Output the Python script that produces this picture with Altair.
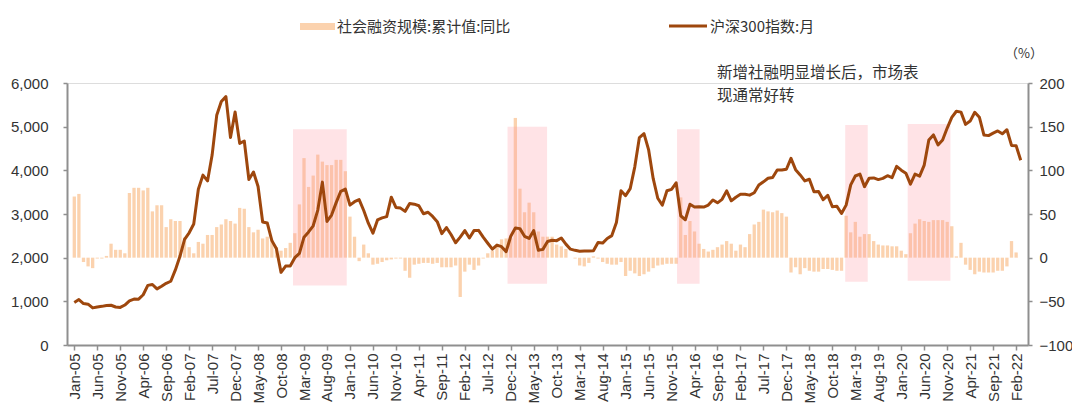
import json
import altair as alt
import pandas as pd

# ---------------- data ----------------
MONTHS = pd.date_range("2005-01-01", "2022-03-01", freq="MS").strftime("%b-%y").tolist()

TICK_LABELS = ["Jan-05", "Jun-05", "Nov-05", "Apr-06", "Sep-06", "Feb-07", "Jul-07", "Dec-07",
               "May-08", "Oct-08", "Mar-09", "Aug-09", "Jan-10", "Jun-10", "Nov-10", "Apr-11",
               "Sep-11", "Feb-12", "Jul-12", "Dec-12", "May-13", "Oct-13", "Mar-14", "Aug-14",
               "Jan-15", "Jun-15", "Nov-15", "Apr-16", "Sep-16", "Feb-17", "Jul-17", "Dec-17",
               "May-18", "Oct-18", "Mar-19", "Aug-19", "Jan-20", "Jun-20", "Nov-20", "Apr-21",
               "Sep-21", "Feb-22"]

# 社会融资规模:累计值:同比 (%), monthly
SF_YOY = [
    70, 73, -5, -10, -12, -1, -1, 2, 16, 9, 9, 5,
    74, 80, 80, 77, 80, 53, 60, 60, 35, 44, 42, 42,
    23, 12, 5, 18, 16, 26, 26, 35, 38, 44, 42, 39,
    57, 56, 35, 29, 32, 22, 24, 20, 12, 8, 11, 17,
    28, 61, 114, 81, 94, 118, 110, 106, 106, 112, 112, 99,
    47, 24, -4, 15, 5, -8, -7, -5, -3, -2, -1, -1,
    -15, -23, -8, -7, -6, -6, -7, -6, -11, -11, -11, -9,
    -45, -16, -8, -14, -9, -1, 5, 8, 15, 21, 22, 22,
    160, 79, 52, 63, 52, 30, 24, 24, 24, 15, 13, 10,
    0, -1, -9, -10, -6, 1.5, -1, -5, -7, -8, -8, -5,
    -21, -15, -18, -21, -19, -16, -12, -9, -8, -7, -7, -7,
    69, 26, 42, 30, 16, 10, 7, 9, 12, 15, 19, 16,
    8, 15, 12, 27, 38, 41, 55, 53, 52, 54, 51, 47,
    -17, -11, -19, -12, -15, -16, -16, -13, -13, -14, -15, -15,
    48, 29, 41, 24, 27, 27, 19, 15, 14, 14, 13, 13,
    8, 4, 28, 39, 44, 42, 41, 43, 43, 43, 41, 36,
    1.5, 17, -8, -14, -19, -16, -17, -17, -17, -15, -15, -10,
    19, 6, None,
]

# 沪深300指数:月
CSI300 = [
    975, 1040, 950, 935, 850, 870, 885, 905, 910, 870, 860, 915,
    1012, 1052, 1050, 1150, 1365, 1385, 1285, 1345, 1412, 1460, 1720, 2030,
    2420, 2570, 2770, 3568, 3891, 3757, 4350, 5260, 5576, 5688, 4750, 5338,
    4617, 4671, 3791, 3962, 3631, 2817, 2794, 2390, 2202, 1664, 1807, 1810,
    2000, 2100, 2470, 2590, 2730, 3090, 3730, 2830, 2977, 3260, 3520, 3570,
    3204, 3281, 3330, 3080, 2790, 2560, 2865, 2910, 2940, 3385, 3150, 3135,
    3060, 3240, 3225, 3190, 3005, 3040, 2945, 2825, 2550, 2690, 2530, 2343,
    2470, 2620, 2450, 2620, 2625, 2470, 2330, 2195, 2288, 2252, 2138, 2490,
    2680, 2665, 2488, 2440, 2620, 2172, 2190, 2370, 2400, 2390, 2450, 2310,
    2195, 2168, 2146, 2150, 2150, 2160, 2348, 2334, 2440, 2505, 2805, 3533,
    3420, 3580, 4080, 4750, 4840, 4476, 3815, 3360, 3203, 3532, 3565, 3715,
    2960, 2868, 3222, 3160, 3165, 3160, 3204, 3322, 3256, 3336, 3530, 3302,
    3384, 3450, 3452, 3432, 3486, 3663, 3737, 3818, 3837, 4006, 4006, 4025,
    4274, 4015, 3895, 3758, 3796, 3509, 3513, 3326, 3427, 3167, 3175, 3012,
    3203, 3666, 3870, 3913, 3626, 3820, 3826, 3788, 3815, 3877, 3832, 4090,
    4004, 3935, 3685, 3912, 3867, 4120, 4693, 4810, 4582, 4693, 4968, 5211,
    5353, 5333, 5052, 5128, 5331, 5217, 4808, 4795, 4852, 4902, 4836, 4930,
    4570, 4565, 4230,
]

# highlighted periods (month index, right-axis units)
HL_START = [47.6, 94.3, 131.2, 167.8, 181.4]
HL_END = [59.3, 102.9, 136.1, 172.7, 190.7]
HL_BOTTOM = [-32, -30, -30, -27.5, -26.5]
HL_TOP = [147, 150, 147, 152, 153]

SERIES_BAR = "社会融资规模:累计值:同比"
SERIES_LINE = "沪深300指数:月"
NOTE = ["新增社融明显增长后，市场表", "现通常好转"]
UNIT = "（%）"

# ---------------- build ----------------
df = pd.DataFrame({"idx": list(range(len(MONTHS))), "month": MONTHS,
                   "sf": SF_YOY, "csi": CSI300})
hl = pd.DataFrame({"s": HL_START, "e": HL_END, "b": HL_BOTTOM, "t": HL_TOP})

NUM_FONT = "Liberation Sans"
CJK_FONT = "Noto Sans CJK SC"
TEXT_COLOR = "#333333"
AXIS_COLOR = "#8f8f8f"
BAR_COLOR = "#FBD2AE"
LINE_COLOR = "#9E470D"

label_expr = json.dumps(TICK_LABELS) + "[round(datum.value / 5)]"
x_axis = alt.Axis(values=list(range(0, 206, 5)), labelExpr=label_expr, labelAngle=270,
                  labelOverlap=False, labelFont=NUM_FONT, labelFontSize=15,
                  labelColor=TEXT_COLOR, domainColor=AXIS_COLOR, domainWidth=2,
                  tickColor=AXIS_COLOR, tickWidth=1.5, tickSize=5, labelPadding=3,
                  grid=False, title=None)
x_scale = alt.Scale(domain=[-0.5, len(MONTHS) - 0.5], nice=False, zero=False)

bars = alt.Chart(df).mark_bar(size=3.3, color=BAR_COLOR).encode(
    x=alt.X("idx:Q", scale=x_scale, axis=x_axis),
    y=alt.Y("sf:Q", scale=alt.Scale(domain=[-100, 200], nice=False),
            axis=alt.Axis(orient="right", values=[-100, -50, 0, 50, 100, 150, 200],
                          labelFont=NUM_FONT, labelFontSize=15, labelColor=TEXT_COLOR,
                          domainColor=AXIS_COLOR, domainWidth=2, tickColor=AXIS_COLOR,
                          tickWidth=1.5, tickSize=4, labelPadding=7, grid=False, title=None)),
)

rects = alt.Chart(hl).mark_rect(color="#FF9AA6", opacity=0.28).encode(
    x=alt.X("s:Q", scale=x_scale, axis=x_axis),
    x2="e:Q",
    y=alt.Y("b:Q", scale=alt.Scale(domain=[-100, 200], nice=False), axis=None),
    y2="t:Q",
)

line = alt.Chart(df).mark_line(color=LINE_COLOR, strokeWidth=3, strokeJoin="round").encode(
    x=alt.X("idx:Q", scale=x_scale, axis=x_axis),
    y=alt.Y("csi:Q", scale=alt.Scale(domain=[0, 6000], nice=False),
            axis=alt.Axis(orient="left", values=[0, 1000, 2000, 3000, 4000, 5000, 6000],
                          format=",d", labelFont=NUM_FONT, labelFontSize=15,
                          labelColor=TEXT_COLOR, domainColor=AXIS_COLOR, domainWidth=2,
                          tickColor=AXIS_COLOR, tickWidth=1.5, tickSize=4, labelPadding=15,
                          grid=False, title=None)),
)

one = pd.DataFrame({"k": [0]})
leg_bar_sw = alt.Chart(one).mark_rect(color=BAR_COLOR).encode(
    x=alt.value(233), x2=alt.value(268), y=alt.value(-60), y2=alt.value(-53))
leg_bar_tx = alt.Chart(one).mark_text(align="left", baseline="middle", font=CJK_FONT,
                                      fontSize=15, color=TEXT_COLOR).encode(
    x=alt.value(270), y=alt.value(-56.5), text=alt.value(SERIES_BAR))
leg_line_sw = alt.Chart(one).mark_rule(color=LINE_COLOR, strokeWidth=3).encode(
    x=alt.value(602), x2=alt.value(640), y=alt.value(-57))
leg_line_tx = alt.Chart(one).mark_text(align="left", baseline="middle", font=CJK_FONT,
                                       fontSize=15, color=TEXT_COLOR).encode(
    x=alt.value(643), y=alt.value(-56.5), text=alt.value(SERIES_LINE))
note1 = alt.Chart(one).mark_text(align="left", baseline="middle", font=CJK_FONT,
                                 fontSize=15.5, color=TEXT_COLOR).encode(
    x=alt.value(650), y=alt.value(-10), text=alt.value(NOTE[0]))
note2 = alt.Chart(one).mark_text(align="left", baseline="middle", font=CJK_FONT,
                                 fontSize=15.5, color=TEXT_COLOR).encode(
    x=alt.value(650), y=alt.value(13), text=alt.value(NOTE[1]))
unit = alt.Chart(one).mark_text(align="center", baseline="middle", font=CJK_FONT,
                                fontSize=13, color=TEXT_COLOR).encode(
    x=alt.value(957), y=alt.value(-29), text=alt.value(UNIT))

chart = alt.layer(bars, rects, line, leg_bar_sw, leg_bar_tx, leg_line_sw, leg_line_tx,
                  note1, note2, unit).resolve_scale(y="independent").properties(
    width=961, height=262,
    autosize=alt.AutoSizeParams(type="none"),
    padding={"left": 59, "top": 75, "right": 44, "bottom": 60},
).configure_view(stroke=None).configure(background="white")

chart.save("out.html", embed_options={"renderer": "svg", "actions": False})
